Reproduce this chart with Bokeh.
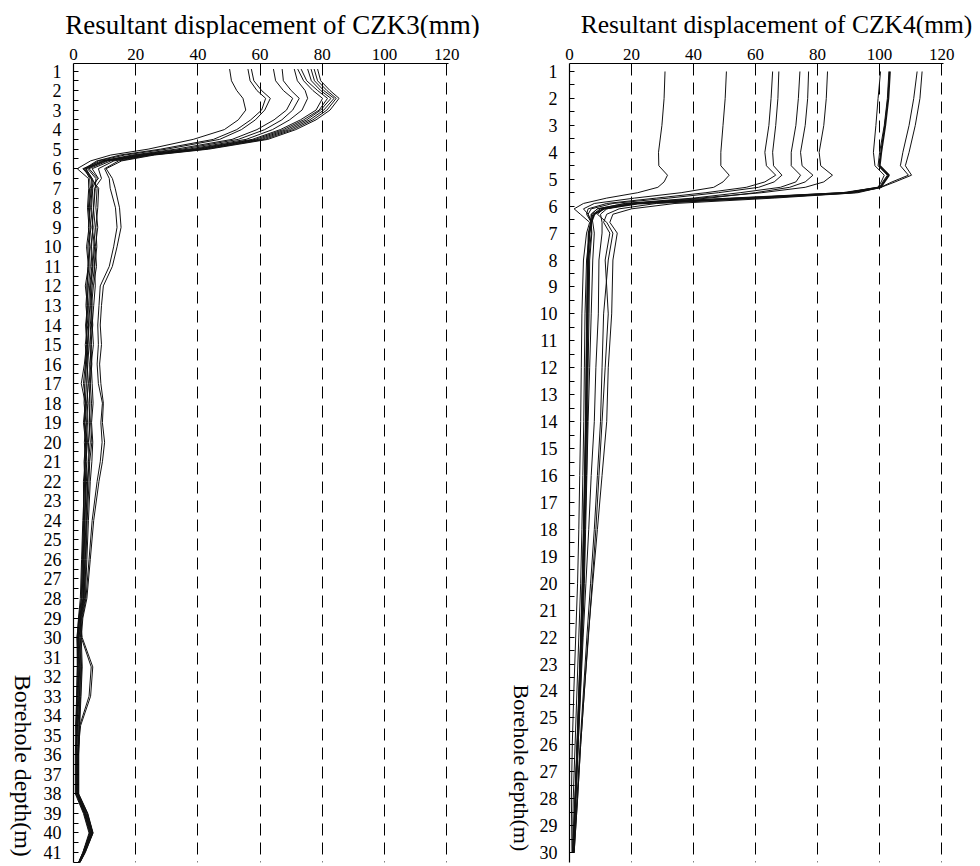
import math
from bokeh.plotting import figure
from bokeh.models import Range1d, FixedTicker
from bokeh.layouts import row, column
from bokeh.core.properties import value
from bokeh.embed import file_html
from bokeh.resources import INLINE

FONT = "Liberation Serif"
FONT_Q = "'Liberation Serif', serif"

# ---------------- CZK3 (left panel) ----------------
czk3_depth = [0.9, 1.5, 2, 2.4, 3, 3.5, 4, 4.5, 5, 5.3, 5.6, 6, 6.5,
              7, 8, 9, 10, 11, 12, 13, 14, 15, 16, 17, 18, 19, 20, 21, 22,
              24, 26, 28, 29, 30, 31.5, 33, 34.5, 36, 38, 39, 40, 41, 41.6]

czk3_s1 = [50.2, 50.8, 52.5, 54.5, 55.4, 53.0, 48.5, 38.5, 24.0, 12.0, 5.5, 1.2, 4.8,
           4.9, 4.5, 5.0, 4.2, 4.8, 3.8, 4.5, 3.9, 4.2, 3.5, 2.5, 3.8, 3.2, 3.9, 3.4, 3.6,
           3.0, 2.6, 2.2, 1.6, 1.2, 1.5, 1.2, 0.8, 0.6, 0.6, 3.2, 5.0, 3.0, 1.4]
czk3_s2 = [56.1, 56.8, 59.0, 61.8, 60.5, 57.0, 52.5, 45.0, 28.0, 15.0, 7.5, 3.5, 5.2,
           5.4, 5.2, 4.8, 5.3, 4.6, 4.4, 4.0, 4.6, 3.8, 4.2, 3.6, 3.4, 4.0, 3.5, 3.8, 3.2,
           3.3, 2.8, 2.5, 1.8, 1.5, 1.8, 1.4, 1.0, 0.9, 0.8, 3.4, 5.2, 3.1, 1.4]
czk3_s3 = [57.2, 58.0, 60.5, 63.3, 61.5, 58.5, 54.0, 47.0, 30.0, 16.5, 8.0, 4.0, 6.0,
           5.8, 5.0, 5.6, 5.0, 5.4, 4.8, 4.3, 4.2, 4.5, 3.9, 4.1, 3.8, 3.5, 3.9, 3.6, 3.9,
           3.5, 3.1, 2.8, 2.0, 1.3, 1.2, 1.0, 0.7, 1.2, 1.0, 3.6, 5.5, 3.2, 1.5]
czk3_s4 = [64.3, 65.0, 67.5, 70.5, 68.5, 64.5, 59.0, 51.0, 33.0, 19.0, 9.0, 3.0, 5.8,
           6.2, 5.8, 6.3, 5.6, 5.9, 5.2, 4.9, 5.0, 4.6, 4.4, 4.8, 4.2, 4.5, 4.0, 4.3, 3.8,
           3.7, 3.4, 3.0, 2.2, 2.5, 5.7, 5.0, 2.0, 1.5, 1.2, 3.8, 5.8, 3.3, 1.5]
czk3_s5 = [67.1, 67.5, 70.0, 72.6, 70.5, 67.0, 61.5, 53.0, 35.0, 20.0, 9.5, 4.5, 7.2,
           7.0, 6.5, 6.0, 6.8, 6.1, 5.6, 5.3, 4.8, 5.0, 4.6, 4.3, 4.6, 4.2, 4.5, 4.0, 4.2,
           3.6, 3.2, 3.2, 2.1, 2.8, 6.2, 5.5, 2.3, 1.3, 1.3, 4.0, 6.0, 3.4, 1.6]
czk3_s6 = [71.0, 72.0, 74.5, 75.3, 73.5, 69.5, 64.0, 55.5, 37.0, 21.0, 10.0, 3.5, 6.0,
           7.6, 7.2, 7.8, 7.0, 7.4, 6.4, 5.8, 6.2, 5.6, 5.9, 5.4, 5.8, 5.5, 5.9, 5.2, 5.0,
           4.4, 4.0, 3.6, 2.4, 1.8, 2.2, 1.9, 1.5, 1.4, 1.4, 4.2, 6.1, 3.5, 1.6]
czk3_s7 = [72.1, 74.0, 77.0, 80.1, 78.0, 73.0, 66.5, 57.5, 38.5, 22.0, 10.5, 4.0, 5.5,
           8.1, 7.8, 7.2, 7.5, 6.8, 7.0, 6.5, 6.0, 6.4, 5.7, 6.0, 6.3, 5.8, 6.2, 5.9, 5.4,
           4.8, 4.3, 3.8, 2.6, 2.0, 2.4, 2.0, 1.8, 1.6, 1.5, 4.4, 6.2, 3.6, 1.7]
czk3_s8 = [73.2, 75.0, 78.5, 81.7, 79.0, 74.0, 67.5, 58.5, 39.5, 23.0, 11.0, 5.0, 7.8,
           6.0, 5.5, 6.2, 5.8, 6.3, 5.5, 6.0, 5.4, 5.8, 5.2, 5.4, 5.0, 5.2, 4.8, 5.0, 4.6,
           4.2, 3.8, 3.4, 2.3, 1.6, 2.0, 1.7, 1.3, 1.0, 1.1, 3.9, 5.9, 3.3, 1.5]
czk3_s9 = [75.3, 76.5, 79.5, 82.8, 79.5, 75.0, 68.5, 59.5, 40.5, 23.5, 12.0, 6.0, 8.0,
           5.2, 4.8, 5.4, 4.6, 5.0, 4.3, 4.7, 4.1, 4.4, 3.8, 3.2, 4.0, 3.6, 4.2, 3.8, 3.5,
           3.2, 2.9, 2.6, 1.7, 1.1, 1.3, 1.1, 0.9, 0.8, 0.9, 3.5, 5.4, 3.0, 1.4]
czk3_s10 = [76.4, 77.5, 80.5, 83.8, 80.5, 76.0, 69.5, 60.5, 41.5, 24.5, 13.0, 8.0, 9.0,
            6.8, 6.4, 7.0, 6.5, 6.8, 6.0, 5.5, 5.8, 5.3, 5.6, 5.0, 5.3, 5.0, 5.4, 4.8, 4.5,
            4.0, 3.6, 3.3, 2.0, 1.4, 1.7, 1.5, 1.2, 1.1, 1.2, 3.7, 5.6, 3.2, 1.5]
czk3_s11 = [77.4, 78.5, 81.5, 84.5, 81.5, 77.0, 70.5, 61.5, 42.5, 25.0, 14.5, 10.0, 11.5,
            11.8, 13.5, 14.0, 12.9, 11.5, 8.6, 8.2, 7.8, 8.0, 7.6, 8.0, 9.3, 8.8, 9.2, 8.6, 7.6,
            6.0, 5.0, 4.0, 2.8, 2.2, 2.6, 2.3, 1.8, 1.6, 1.6, 4.5, 6.2, 3.7, 1.8]
czk3_s12 = [78.5, 79.5, 82.5, 85.4, 82.5, 78.0, 71.5, 62.5, 43.5, 26.0, 15.5, 10.5, 12.5,
            13.4, 14.8, 15.3, 14.0, 12.5, 9.6, 9.0, 8.6, 9.0, 8.4, 8.8, 9.6, 9.3, 10.0, 9.3, 8.2,
            6.5, 5.4, 4.3, 3.0, 2.5, 2.8, 2.4, 2.0, 1.7, 1.7, 4.6, 6.3, 3.8, 1.8]

czk3_series = [czk3_s1, czk3_s2, czk3_s3, czk3_s4, czk3_s5, czk3_s6,
               czk3_s7, czk3_s8, czk3_s9, czk3_s10, czk3_s11, czk3_s12]
czk3_depth_ticks = list(range(1, 42))

# ---------------- CZK4 (right panel) ----------------
czk4_depth = [1, 2, 3, 4, 4.5, 4.85, 5.1, 5.3, 5.5, 5.7, 5.9, 6.1, 6.3, 6.6,
              7, 8, 10, 12, 14, 16, 18, 20, 22, 24, 26, 28, 30]

czk4_s1 = [30.8, 30.5, 29.8, 28.7, 28.8, 31.6, 30.5, 28.5, 22.0, 12.0, 4.5, 1.5, 3.5, 6.5,
           5.5, 4.5, 4.0, 3.8, 3.6, 3.3, 3.0, 2.6, 2.0, 1.4, 0.9, 0.6, 0.8]
czk4_s2 = [50.6, 50.2, 49.5, 48.8, 48.8, 51.5, 49.5, 46.5, 36.0, 21.0, 8.0, 4.5, 6.0, 7.2,
           6.5, 5.5, 5.0, 4.8, 4.6, 4.3, 4.0, 3.6, 3.0, 2.4, 1.8, 1.2, 1.0]
czk4_s3 = [65.5, 65.0, 64.3, 63.0, 63.5, 66.5, 63.0, 57.0, 44.0, 28.0, 12.0, 6.0, 5.5, 7.0,
           7.0, 6.2, 6.0, 5.8, 5.5, 5.2, 4.8, 4.4, 3.8, 3.2, 2.5, 1.8, 1.2]
czk4_s4 = [67.5, 67.2, 66.5, 65.5, 65.8, 68.5, 66.0, 61.0, 48.0, 32.0, 14.0, 7.0, 6.0, 7.0,
           7.2, 6.5, 6.3, 6.0, 5.8, 5.5, 5.0, 4.6, 4.0, 3.3, 2.6, 1.9, 1.2]
czk4_s5 = [74.3, 73.8, 73.0, 71.5, 71.5, 74.5, 73.0, 68.0, 55.0, 40.0, 18.0, 9.0, 7.0, 7.5,
           8.0, 7.5, 7.0, 6.5, 6.0, 5.6, 5.2, 4.8, 4.2, 3.5, 2.8, 2.0, 1.3]
czk4_s6 = [77.1, 76.8, 76.0, 74.5, 75.0, 78.5, 76.0, 71.0, 60.0, 45.0, 22.0, 11.0, 9.0, 12.0,
           14.0, 12.5, 11.0, 10.5, 10.0, 9.0, 8.0, 6.8, 5.6, 4.5, 3.4, 2.4, 1.4]
czk4_s7 = [83.2, 82.8, 82.0, 80.5, 81.0, 84.8, 82.0, 76.0, 62.0, 42.0, 20.0, 12.0, 10.0, 10.5,
           10.5, 9.5, 9.3, 8.5, 8.0, 7.0, 6.2, 5.3, 4.4, 3.6, 2.8, 2.0, 1.3]
czk4_s8 = [100.3, 99.5, 98.8, 98.0, 98.5, 101.5, 100.5, 99.5, 88.0, 52.0, 18.0, 9.0, 7.0, 6.8,
           6.5, 6.0, 5.8, 5.6, 5.3, 5.0, 4.6, 4.2, 3.7, 3.1, 2.5, 1.9, 1.2]
czk4_s9 = [103.0, 102.5, 101.5, 100.0, 99.5, 102.5, 101.0, 100.0, 89.0, 56.0, 20.0, 10.0, 7.5, 7.0,
           6.3, 5.8, 5.6, 5.4, 5.2, 4.9, 4.5, 4.1, 3.6, 3.0, 2.4, 1.8, 1.1]
czk4_s10 = [103.3, 102.8, 101.8, 100.5, 100.0, 103.0, 101.5, 100.3, 90.0, 58.0, 22.0, 11.0, 8.0, 7.0,
            6.2, 6.0, 5.7, 5.5, 5.3, 5.0, 4.7, 4.3, 3.8, 3.2, 2.6, 1.9, 1.2]
czk4_s11 = [112.1, 111.0, 109.5, 107.5, 106.7, 109.3, 104.0, 100.3, 92.0, 62.0, 28.0, 16.0, 12.0, 11.0,
            13.0, 11.5, 12.5, 11.5, 10.5, 9.5, 8.5, 7.3, 6.1, 4.8, 3.6, 2.6, 1.5]
czk4_s12 = [113.7, 113.0, 111.5, 109.5, 108.3, 110.3, 105.0, 100.5, 93.0, 66.0, 34.0, 20.0, 14.0, 13.0,
            15.4, 14.0, 13.6, 12.5, 12.0, 10.5, 9.0, 7.5, 6.0, 4.8, 3.6, 2.6, 1.5]

czk4_series = [czk4_s1, czk4_s2, czk4_s3, czk4_s4, czk4_s5, czk4_s6,
               czk4_s7, czk4_s8, czk4_s9, czk4_s10, czk4_s11, czk4_s12]
czk4_bold = [False] * 9 + [True, False, False]
czk4_depth_ticks = list(range(1, 31))

x_ticks = [0, 20, 40, 60, 80, 100, 120]
grid_ticks = [20, 40, 60, 80, 100, 120]

titles = ["Resultant displacement of CZK3(mm)", "Resultant displacement of CZK4(mm)"]
y_label = "Borehole depth(m)"

TOTAL_W = 976
HEAD_H = 38
BODY_H = 826


def blank(width, height):
    p = figure(width=width, height=height, output_backend="svg", toolbar_location=None,
               title=None,
               x_range=Range1d(0, width), y_range=Range1d(height, 0),
               x_axis_type=None, y_axis_type=None,
               min_border=0, min_border_left=0, min_border_right=0,
               min_border_top=0, min_border_bottom=0)
    p.outline_line_color = None
    p.grid.visible = False
    return p


def make_panel(depth, series, depth_ticks, y_bottom, y_top, width, border_left,
               border_right, bold=None):
    p = figure(width=width, height=BODY_H, output_backend="svg", toolbar_location=None,
               title=None,
               x_range=Range1d(0, 120.6), y_range=Range1d(y_bottom, y_top),
               x_axis_location="above", y_axis_location="left",
               min_border_left=border_left, min_border_right=border_right,
               min_border_top=25, min_border_bottom=2)
    p.outline_line_color = None

    xa = p.xaxis[0]
    xa.ticker = FixedTicker(ticks=x_ticks)
    xa.major_tick_in = 0
    xa.major_tick_out = 0
    xa.minor_tick_in = 0
    xa.minor_tick_out = 0
    xa.axis_line_color = "black"
    xa.axis_line_width = 1.2
    xa.major_label_text_font = FONT
    xa.major_label_text_font_size = "17px"
    xa.major_label_text_color = "black"
    xa.major_label_standoff = 4

    ya = p.yaxis[0]
    ya.ticker = FixedTicker(ticks=depth_ticks,
                            minor_ticks=[t + 0.5 for t in depth_ticks])
    ya.major_tick_in = 5
    ya.major_tick_out = 0
    ya.minor_tick_in = 5
    ya.minor_tick_out = 0
    ya.major_tick_line_color = "black"
    ya.minor_tick_line_color = "black"
    ya.axis_line_color = "black"
    ya.axis_line_width = 1.2
    ya.major_label_text_font = FONT
    ya.major_label_text_font_size = "18px"
    ya.major_label_text_color = "black"
    ya.major_label_standoff = 12

    p.xgrid.ticker = FixedTicker(ticks=grid_ticks)
    p.xgrid.grid_line_color = "black"
    p.xgrid.grid_line_dash = "12 7"
    p.xgrid.grid_line_width = 1
    p.ygrid.grid_line_color = None

    for i, s in enumerate(series):
        w = 2.0 if (bold and bold[i]) else 1.0
        p.line(x=s, y=depth, line_color="#111111", line_width=w)
    return p


# header with the two panel titles
head = blank(TOTAL_W, HEAD_H)
head.text(x=[272], y=[24], text=[titles[0]], text_align="center",
          text_baseline="alphabetic", text_font=value(FONT_Q), text_font_size="27px",
          text_color="black")
head.text(x=[776], y=[24], text=[titles[1]], text_align="center",
          text_baseline="alphabetic", text_font=value(FONT_Q), text_font_size="25.5px",
          text_color="black")

# rotated y-axis labels (read top to bottom)
lab1 = blank(36, BODY_H)
lab1.text(x=[22], y=[632], text=[y_label], angle=-math.pi / 2, text_align="left",
          text_baseline="middle", text_font=value(FONT_Q), text_font_size="24px",
          text_color="black")
lab2 = blank(44, BODY_H)
lab2.text(x=[31], y=[642], text=[y_label], angle=-math.pi / 2, text_align="left",
          text_baseline="middle", text_font=value(FONT_Q), text_font_size="22px",
          text_color="black")

p1 = make_panel(czk3_depth, czk3_series, czk3_depth_ticks, 41.51, 0.616,
                454, 37, 42)
P2_W = TOTAL_W - 490 - 44
p2 = make_panel(czk4_depth, czk4_series, czk4_depth_ticks, 30.37, 0.703,
                P2_W, 35, P2_W - 35 - 374, czk4_bold)

layout = column(head, row(lab1, p1, lab2, p2))
open("out.html", "w").write(file_html(layout, INLINE))
